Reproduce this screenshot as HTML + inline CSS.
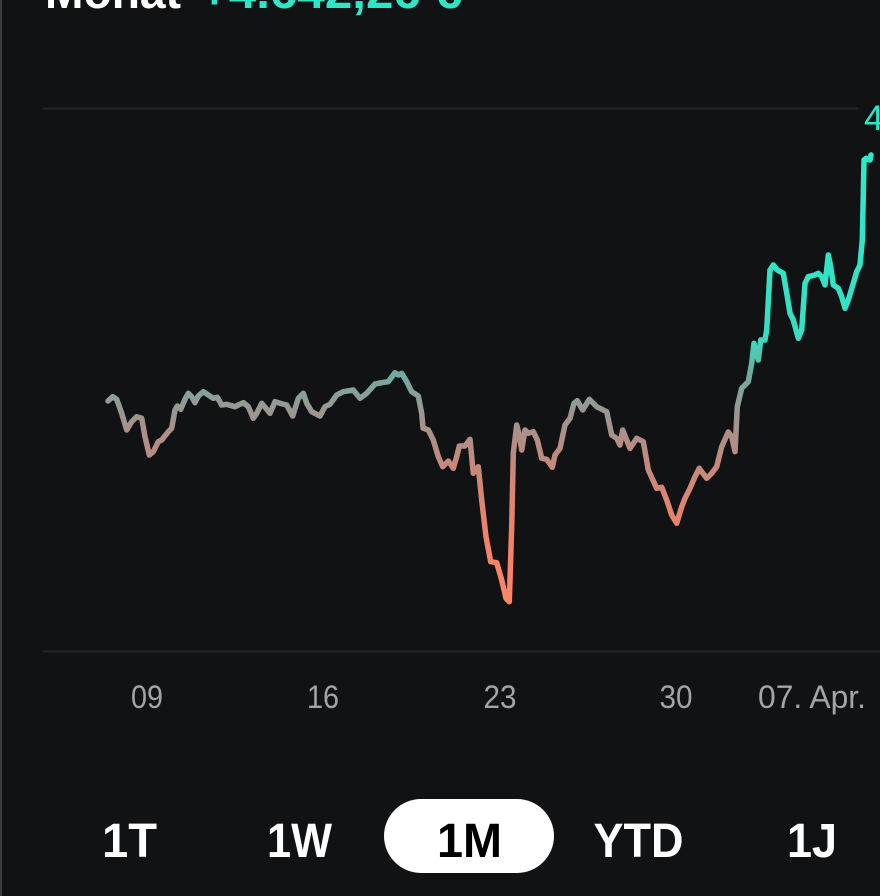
<!DOCTYPE html>
<html>
<head>
<meta charset="utf-8">
<style>
  html, body { margin: 0; padding: 0; background: #111214; }
  body { width: 880px; height: 896px; overflow: hidden; position: relative; }
  svg { display: block; }
</style>
</head>
<body>
<svg width="880" height="896" viewBox="0 0 880 896" xmlns="http://www.w3.org/2000/svg">
  <defs>
    <linearGradient id="lg" gradientUnits="userSpaceOnUse" x1="0" y1="160" x2="0" y2="602">
      <stop offset="0" stop-color="#2eeacb"/>
      <stop offset="0.385" stop-color="#34e0c4"/>
      <stop offset="0.43" stop-color="#4cccb8"/>
      <stop offset="0.48" stop-color="#6caca2"/>
      <stop offset="0.535" stop-color="#8c9e99"/>
      <stop offset="0.588" stop-color="#a2938e"/>
      <stop offset="0.68" stop-color="#c08a7e"/>
      <stop offset="0.84" stop-color="#ee8268"/>
      <stop offset="1" stop-color="#ff8567"/>
    </linearGradient>
  </defs>
  <rect x="0" y="0" width="880" height="896" fill="#111214"/>
  <rect x="0" y="0" width="2" height="896" fill="#3a3b3d"/>

  <!-- header -->
  <text x="45" y="8" font-family="Liberation Sans, sans-serif" font-weight="bold" font-size="46" fill="#ffffff" textLength="136" lengthAdjust="spacingAndGlyphs">Monat</text>
  <text x="200" y="8" font-family="Liberation Sans, sans-serif" font-weight="bold" font-size="46" fill="#2ee6c6" textLength="262" lengthAdjust="spacingAndGlyphs">+4.642,26 €</text>

  <!-- grid lines -->
  <rect x="43" y="107.5" width="815" height="2" fill="#232528"/>
  <rect x="43" y="650.5" width="837" height="2" fill="#232528"/>

  <!-- right value label -->
  <text x="864" y="130" font-family="Liberation Sans, sans-serif" font-size="35" fill="#2ee6c6">4</text>

  <!-- series -->
  <polyline fill="none" stroke="url(#lg)" stroke-width="5.5" stroke-linejoin="round" stroke-linecap="round"
    points="108,401 112.7,396.7 116.7,399.3 121.7,413.3 126.7,430 131.7,421.7 136.7,416.7 141.7,418.3 145,436.7 149.3,455 153.3,451.7 158.3,441.7 161.7,440 168.3,431.7 171.7,428.3 175,410 177.3,406 180.7,409.3 185,399.3 188.3,393.3 191.7,396.7 195,402.7 198.3,396 203.3,391.7 208.3,395 213.3,398.3 217.3,397.3 221.7,405 226.7,404.3 235,406.7 238.3,405 243.3,402.7 248.3,406.7 253.3,418.3 256.7,413.3 261.7,403.3 266,408.3 270,413.3 275,401.7 280,403.3 286.7,405 292.7,416 298.3,398.3 303.3,393.3 306.7,403.3 311.7,411.7 320,416 325,406.7 330,404.3 336.7,395 343.3,391.7 353.3,390 360,398.3 366.7,393.3 375,384 381.7,382.7 388.3,381.7 395,372.7 398.3,375 401.7,373.3 406.7,381.7 411.7,391.7 418.3,396 421.7,413.3 423,428 428.3,430 433.3,440 438.3,456.7 442.7,466.7 448.3,461 453.3,468.3 456.7,456.7 459.3,446 465,446 470,439.3 473.3,473.3 478.3,466.7 481.7,500 486,536.7 490.7,561.7 496.7,562.7 501.7,580 506,598.3 509.3,601.7 511.7,526.7 513.3,453.3 516.7,425 519.3,435 521.7,450 525,430 528.3,433.3 533.3,431.7 537.3,440 541.7,458.3 546.7,459.3 552.3,467.3 555,455 560,448.3 565,425 570,418.3 574,403.3 577.3,400.7 582.7,410 589.3,399.3 596.7,406.7 606.7,411.7 611.7,435 616.7,438.3 620,445 622.7,430 626,438.3 630,448.3 636.7,438.3 643.3,441.7 648.3,470 656.7,488.3 661.7,487.3 666.7,500 671.7,515 676.7,523.3 681.7,506.7 685,498.3 690,488.3 695,476.7 699.3,468.3 701.7,471.7 706.7,478.3 711.7,473.3 716.7,466.7 721.7,446.7 728.3,432 731.7,436.7 735,451.7 737.3,406.7 741.7,388.3 748.3,381.7 751.7,363.3 754,343.3 756.7,355 758.3,360 760.7,340 765,340 766.7,330 770,270 773.3,265 777.3,270 783.3,273.3 787.3,296.7 790,313.3 793.3,320 798.3,338.3 801.7,330 805,283.3 808.3,276.7 815,275 818.3,273.3 821.7,276.7 825,285 828.3,255 830.7,266.7 833.3,285 838.3,288.3 841.7,296.7 845,308.3 848.3,300 853.3,283.3 856.7,271.7 860,265 862.3,240 864,160 866,158.3 870,160 871,155"/>

  <!-- x labels -->
  <g font-family="Liberation Sans, sans-serif" font-size="32" fill="#a3a4a6" text-anchor="middle">
    <text x="147" y="708" textLength="32" lengthAdjust="spacingAndGlyphs">09</text>
    <text x="323" y="708" textLength="32" lengthAdjust="spacingAndGlyphs">16</text>
    <text x="500" y="708" textLength="33" lengthAdjust="spacingAndGlyphs">23</text>
    <text x="676" y="708" textLength="33" lengthAdjust="spacingAndGlyphs">30</text>
    <text x="812" y="708" textLength="108" lengthAdjust="spacingAndGlyphs">07. Apr.</text>
  </g>

  <!-- range selector -->
  <rect x="384" y="799" width="170" height="74" rx="37" ry="37" fill="#ffffff"/>
  <g font-family="Liberation Sans, sans-serif" font-weight="bold" font-size="48" text-anchor="middle">
    <text x="129.5" y="857" fill="#ffffff" textLength="55" lengthAdjust="spacingAndGlyphs">1T</text>
    <text x="299.5" y="857" fill="#ffffff" textLength="65" lengthAdjust="spacingAndGlyphs">1W</text>
    <text x="469.5" y="857" fill="#000000" textLength="65" lengthAdjust="spacingAndGlyphs">1M</text>
    <text x="638.5" y="857" fill="#ffffff" textLength="90" lengthAdjust="spacingAndGlyphs">YTD</text>
    <text x="812" y="857" fill="#ffffff" textLength="50" lengthAdjust="spacingAndGlyphs">1J</text>
  </g>
</svg>
</body>
</html>
